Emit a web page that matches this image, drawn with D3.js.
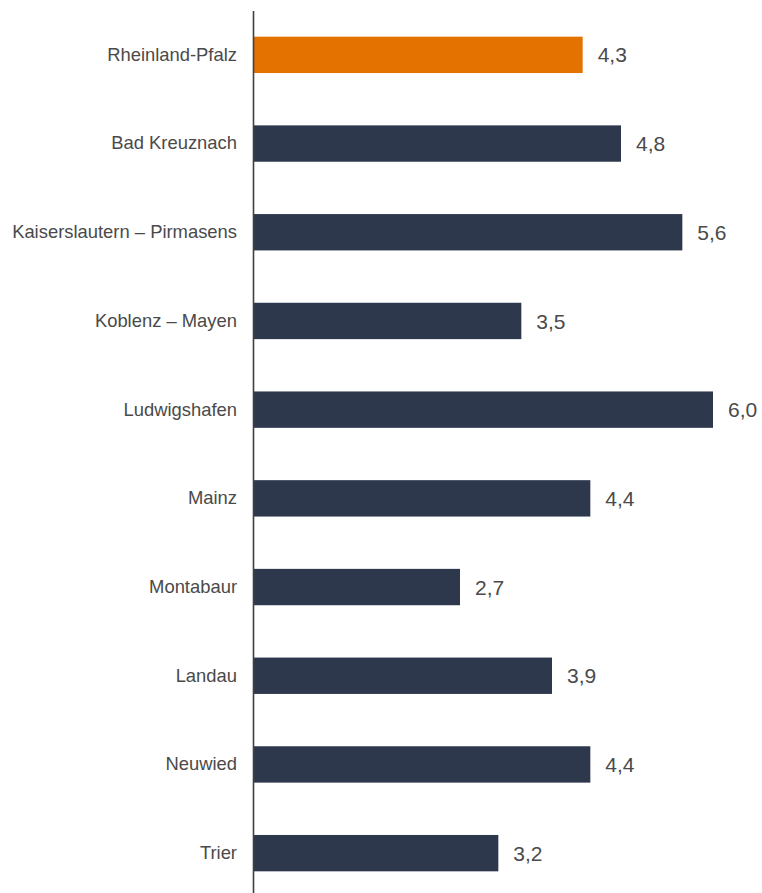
<!DOCTYPE html>
<html>
<head>
<meta charset="utf-8">
<script src="https://cdn.jsdelivr.net/npm/d3@7"></script>
<style>
  body { margin: 0; background: #fff; }
  svg { display: block; font-family: "Liberation Sans", Arial, sans-serif; }
</style>
</head>
<body>
<svg></svg>
<script>
// data
const regions = ['Rheinland-Pfalz', 'Bad Kreuznach', 'Kaiserslautern – Pirmasens', 'Koblenz – Mayen',
    'Ludwigshafen', 'Mainz', 'Montabaur', 'Landau', 'Neuwied', 'Trier']
const rates = [4.3, 4.8, 5.6, 3.5, 6.0, 4.4, 2.7, 3.9, 4.4, 3.2]
const highlighted = ['Rheinland-Pfalz']

const width = 762
const height = 893
const axisX = 253
const svg = d3.select('svg').attr('width', width).attr('height', height)

const xScale = d3.scaleLinear()
    .domain([0, 6])
    .range([axisX, 713])

const yScale = d3.scaleBand()
    .domain(regions)
    .range([10.5, 897.5])
    .paddingInner(0.59)
    .paddingOuter(0.295)

const values = regions.map((r, i) => ({region: r, rate: rates[i]}))

svg.selectAll('rect')
    .data(values)
    .enter()
    .append('rect')
    .attr('x', xScale(0))
    .attr('y', d => yScale(d.region))
    .attr('width', d => xScale(d.rate) - xScale(0))
    .attr('height', yScale.bandwidth())
    .attr('fill', d => highlighted.includes(d.region) ? '#E47200' : '#2E384D')

svg.selectAll('.value')
    .data(values)
    .enter()
    .append('text')
    .attr('class', 'value')
    .attr('x', d => xScale(d.rate) + 15)
    .attr('y', d => yScale(d.region) + yScale.bandwidth() / 2)
    .attr('dy', '0.36em')
    .attr('font-size', 21)
    .attr('fill', '#4a4a4a')
    .text(d => d.rate.toFixed(1).replace('.', ','))

const yAxis = d3.axisLeft(yScale).tickSize(0).tickPadding(16)
const axisG = svg.append('g')
    .attr('transform', 'translate(' + axisX + ', 0)')
    .call(yAxis)
axisG.select('.domain').attr('stroke', '#404040').attr('stroke-width', 1.6)
axisG.selectAll('text')
    .attr('font-size', 18.4)
    .attr('font-family', '"Liberation Sans", Arial, sans-serif')
    .attr('fill', '#4a4a4a')
</script>
</body>
</html>
